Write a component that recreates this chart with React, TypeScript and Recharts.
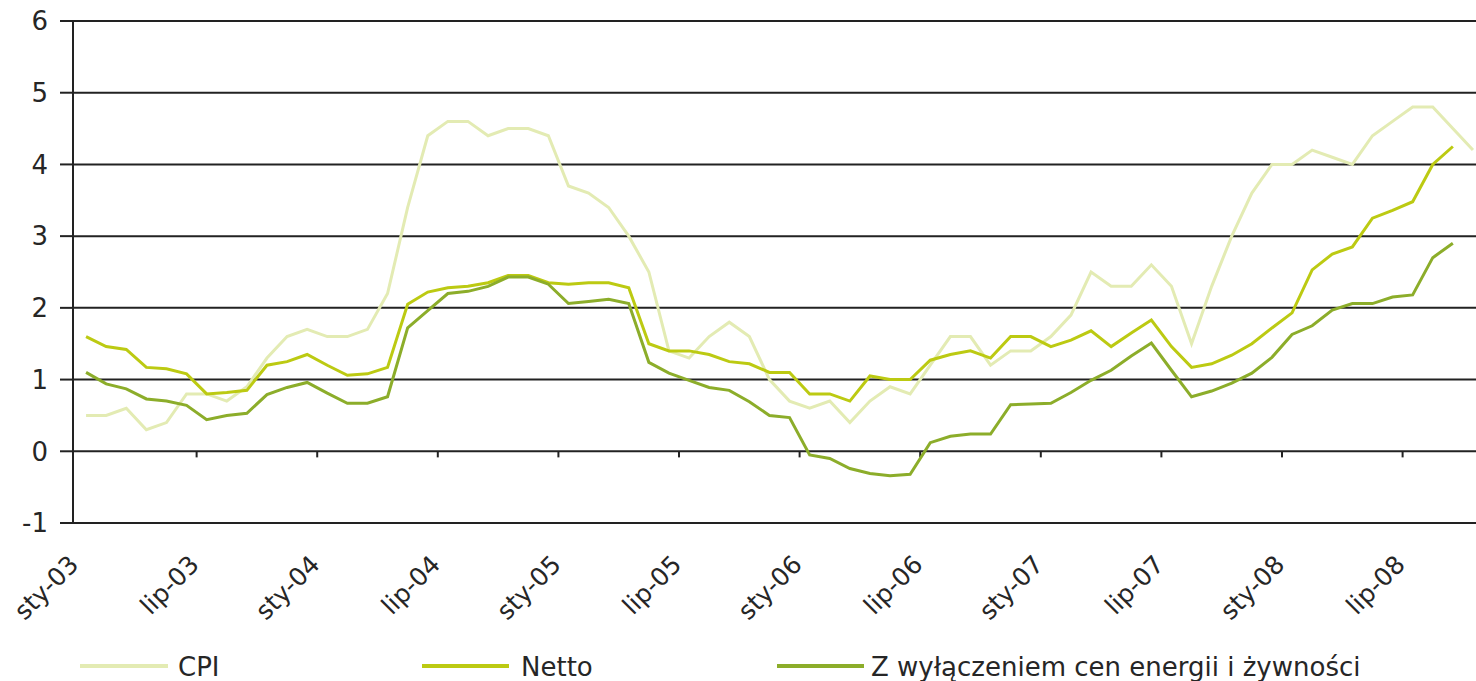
import React from 'react';
import { LineChart, Line, XAxis, YAxis, CartesianGrid, ReferenceLine } from 'recharts';

const FONT = '"DejaVu Sans", Verdana, sans-serif';
const TEXT = '#262626';
const GRID = '#222222';

const MONTH_NAMES = ['sty', 'lut', 'mar', 'kwi', 'maj', 'cze', 'lip', 'sie', 'wrz', 'paź', 'lis', 'gru'];
const YEARS = ['03', '04', '05', '06', '07', '08'];
const MONTHS: string[] = [];
YEARS.forEach((y) => MONTH_NAMES.forEach((m) => MONTHS.push(`${m}-${y}`)));
const CATEGORIES = MONTHS.slice(0, 70); // sty-03 .. paź-08

const CPI = [
  0.5, 0.5, 0.6, 0.3, 0.4, 0.8, 0.8, 0.7, 0.9, 1.3, 1.6, 1.7,
  1.6, 1.6, 1.7, 2.2, 3.4, 4.4, 4.6, 4.6, 4.4, 4.5, 4.5, 4.4,
  3.7, 3.6, 3.4, 3.0, 2.5, 1.4, 1.3, 1.6, 1.8, 1.6, 1.0, 0.7,
  0.6, 0.7, 0.4, 0.7, 0.9, 0.8, 1.2, 1.6, 1.6, 1.2, 1.4, 1.4,
  1.6, 1.9, 2.5, 2.3, 2.3, 2.6, 2.3, 1.5, 2.3, 3.0, 3.6, 4.0,
  4.0, 4.2, 4.1, 4.0, 4.4, 4.6, 4.8, 4.8, 4.5, 4.2,
];

const NETTO = [
  1.6, 1.46, 1.42, 1.17, 1.15, 1.08, 0.8, 0.82, 0.85, 1.2, 1.25, 1.35,
  1.2, 1.06, 1.08, 1.17, 2.05, 2.22, 2.28, 2.3, 2.35, 2.45, 2.45, 2.35,
  2.33, 2.35, 2.35, 2.28, 1.5, 1.4, 1.4, 1.35, 1.25, 1.22, 1.1, 1.1,
  0.8, 0.8, 0.7, 1.05, 1.0, 1.0, 1.27, 1.35, 1.4, 1.3, 1.6, 1.6,
  1.46, 1.55, 1.68, 1.46, 1.65, 1.83, 1.46, 1.17, 1.22, 1.34, 1.5, 1.72,
  1.93, 2.53, 2.75, 2.85, 3.25, 3.36, 3.48, 4.0, 4.25,
];

const CORE = [
  1.1, 0.94, 0.87, 0.73, 0.7, 0.64, 0.44, 0.5, 0.53, 0.79, 0.89, 0.96,
  0.81, 0.67, 0.67, 0.76, 1.72, 1.96, 2.2, 2.23, 2.3, 2.43, 2.43, 2.33,
  2.06, 2.09, 2.12, 2.06, 1.24, 1.09, 0.99, 0.89, 0.85, 0.69, 0.5, 0.47,
  -0.05, -0.1, -0.24, -0.31, -0.34, -0.32, 0.12, 0.21, 0.24, 0.24, 0.65, 0.66,
  0.67, 0.82, 0.99, 1.13, 1.33, 1.51, 1.13, 0.76, 0.84, 0.95, 1.09, 1.31,
  1.63, 1.75, 1.97, 2.06, 2.06, 2.15, 2.18, 2.7, 2.9,
];

const Y_TICKS = [-1, 0, 1, 2, 3, 4, 5, 6];
// tick marks sit between categories, every 6 months (sty / lip)
const X_TICKS = [-0.5, 5.5, 11.5, 17.5, 23.5, 29.5, 35.5, 41.5, 47.5, 53.5, 59.5, 65.5];

const SERIES = [
  { key: 'cpi', name: 'CPI', color: '#e3ebb3' },
  { key: 'netto', name: 'Netto', color: '#bcca12' },
  { key: 'core', name: 'Z wyłączeniem cen energii i żywności', color: '#8cad2a' },
];

const data = CATEGORIES.map((m, i) => ({
  i,
  month: m,
  cpi: CPI[i] ?? null,
  netto: NETTO[i] ?? null,
  core: CORE[i] ?? null,
}));

const XTick = (props: any) => {
  const { x, y, payload } = props;
  const label = CATEGORIES[Math.round(payload.value + 0.5)];
  return (
    <text
      x={0}
      y={0}
      transform={`translate(${x + 4},${y + 43}) rotate(-45)`}
      textAnchor="end"
      fontSize={25}
      fill={TEXT}
      fontFamily={FONT}
    >
      {label}
    </text>
  );
};

const LEGEND_POS = [
  { x1: 80, x2: 168, tx: 178 },
  { x1: 422, x2: 509, tx: 521 },
  { x1: 777, x2: 864, tx: 871 },
];

export default function App() {
  return (
    <div
      style={{
        position: 'absolute',
        left: 0,
        top: 0,
        width: 1476,
        height: 681,
        overflow: 'hidden',
        background: '#ffffff',
      }}
    >
      <LineChart
        width={1483}
        height={681}
        data={data}
        margin={{ top: 21, right: 0, left: 0, bottom: 58 }}
      >
        <CartesianGrid horizontal vertical={false} stroke={GRID} strokeWidth={2} />
        <XAxis
          type="number"
          dataKey="i"
          domain={[-0.65, 69.5]}
          ticks={X_TICKS}
          interval={0}
          allowDataOverflow
          axisLine={false}
          tickLine={false}
          tickSize={0}
          tickMargin={0}
          height={100}
          tick={<XTick />}
        />
        <YAxis
          type="number"
          domain={[-1, 6]}
          ticks={Y_TICKS}
          interval={0}
          width={73}
          axisLine={{ stroke: GRID, strokeWidth: 2 }}
          tickLine={{ stroke: GRID, strokeWidth: 2 }}
          tickSize={13}
          tickMargin={12}
          tick={{ fontSize: 26, fill: TEXT, fontFamily: FONT }}
        />
        {X_TICKS.slice(1).map((t) => (
          <ReferenceLine
            key={t}
            segment={[
              { x: t, y: 0 },
              { x: t, y: -0.085 },
            ]}
            stroke={GRID}
            strokeWidth={2}
            ifOverflow="visible"
          />
        ))}
        {SERIES.map((s) => (
          <Line
            key={s.key}
            type="linear"
            dataKey={s.key}
            name={s.name}
            stroke={s.color}
            strokeWidth={3}
            dot={false}
            activeDot={false}
            isAnimationActive={false}
          />
        ))}
      </LineChart>
      <svg
        width={1476}
        height={40}
        style={{ position: 'absolute', left: 0, top: 646 }}
      >
        {SERIES.map((s, k) => (
          <g key={s.key}>
            <line
              x1={LEGEND_POS[k].x1}
              x2={LEGEND_POS[k].x2}
              y1={20}
              y2={20}
              stroke={s.color}
              strokeWidth={4}
            />
            <text
              x={LEGEND_POS[k].tx}
              y={29.5}
              fontSize={26}
              fill={TEXT}
              fontFamily={FONT}
            >
              {s.name}
            </text>
          </g>
        ))}
      </svg>
    </div>
  );
}
